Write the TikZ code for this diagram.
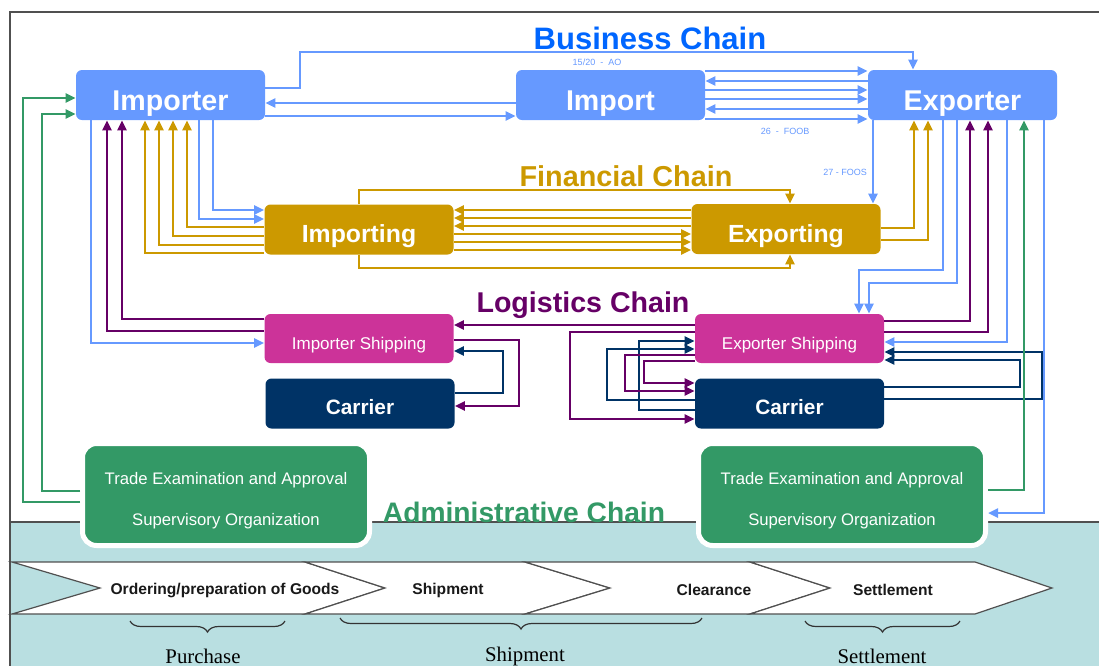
\documentclass[tikz,border=0pt]{standalone}
\usepackage{fontspec}
\setmainfont{Liberation Sans}
\newfontfamily\serifface{Liberation Serif}
\usetikzlibrary{arrows.meta,decorations.pathreplacing}
\definecolor{bizblue}{HTML}{6699FF}
\definecolor{titleblue}{HTML}{0066FF}
\definecolor{fingold}{HTML}{CC9900}
\definecolor{logpurple}{HTML}{660066}
\definecolor{shipmag}{HTML}{CC3399}
\definecolor{carnavy}{HTML}{003366}
\definecolor{admgreen}{HTML}{339966}
\definecolor{bgteal}{HTML}{B9DFE1}
\definecolor{framegray}{HTML}{505050}
\tikzset{
  box/.style={rounded corners=3pt, inner sep=0pt, text=white, minimum width=94.5pt, minimum height=25pt, text depth=0pt},
  bizbox/.style={box, fill=bizblue, text height=15.5pt, font=\fontsize{14.3}{16}\selectfont\bfseries},
  finbox/.style={box, fill=fingold, text height=13pt, font=\fontsize{12.4}{14}\selectfont\bfseries},
  shipbox/.style={box, fill=shipmag, minimum height=24.5pt, text height=10.5pt, font=\fontsize{8.5}{10}\selectfont},
  carbox/.style={box, fill=carnavy, text height=11pt, font=\fontsize{10.4}{12}\selectfont\bfseries},
  admbox/.style={rounded corners=7pt, inner sep=0pt, text=white, fill=admgreen, draw=white, line width=2.5pt,
    minimum width=143.5pt, minimum height=51pt, align=center, font=\fontsize{8.35}{20.5}\selectfont},
  ttl/.style={font=\fontsize{#1}{#1}\selectfont\bfseries},
  tiny/.style={text=bizblue, font=\fontsize{4.5}{5}\selectfont},
  tip/.style={-{Triangle[length=5pt,width=4.5pt]}},
  biz/.style={tip, bizblue, line width=1.2pt},
  fin/.style={tip, fingold, line width=1.2pt},
  log/.style={tip, logpurple, line width=1.2pt},
  car/.style={tip, carnavy, line width=1.2pt},
  adm/.style={tip, admgreen, line width=1.2pt},
  chevron/.style={fill=white, draw=framegray, line width=0.6pt},
  stage/.style={text=black!90, font=\fontsize{7.8}{9}\selectfont\bfseries},
  phase/.style={decorate, decoration={brace, mirror, amplitude=5.5pt}, draw=black!80, line width=0.6pt},
  phaselabel/.style={font=\serifface\fontsize{10.4}{12}\selectfont}
}
\newcommand\admtext{\rule{0pt}{12pt}Trade Examination and Approval\\Supervisory Organization}
\begin{document}
\begin{tikzpicture}[x=0.5pt,y=-0.5pt]
  \useasboundingbox (0,0) rectangle (1099,666);
  \fill[bgteal] (10,522) rectangle (1099,666);
  \draw[framegray, line width=0.8pt] (1099,12) -- (10,12) -- (10,666);
  \draw[framegray, line width=0.8pt] (10,522) -- (1099,522);

  \draw[chevron] (12,562) -- (305,562) -- (385,588) -- (305,614) -- (12,614) -- (100,588) -- cycle;
  \draw[chevron] (305,562) -- (525,562) -- (610,588) -- (525,614) -- (305,614) -- (385,588) -- cycle;
  \draw[chevron] (525,562) -- (750,562) -- (830,588) -- (750,614) -- (525,614) -- (610,588) -- cycle;
  \draw[chevron] (750,562) -- (975,562) -- (1052,588) -- (975,614) -- (750,614) -- (830,588) -- cycle;
  \node[stage] (ordering) at (225,590) {Ordering/preparation of Goods};
  \node[stage] (shipment) at (448,590) {Shipment};
  \node[stage] (clearance) at (714,590) {Clearance};
  \node[stage] (settlement) at (893,590) {Settlement};

  \coordinate (purchaseL) at (130,621);
  \coordinate (purchaseR) at (285,621);
  \coordinate (shipmentL) at (340,618);
  \coordinate (shipmentR) at (702,618);
  \coordinate (settleL) at (805,621);
  \coordinate (settleR) at (960,621);
  \draw[phase] (purchaseL) -- (purchaseR);
  \draw[phase] (shipmentL) -- (shipmentR);
  \draw[phase] (settleL) -- (settleR);
  \node[phaselabel] (purchase) at (203,656) {Purchase};
  \node[phaselabel] (shipphase) at (525,656) {Shipment};
  \node[phaselabel] (settlephase) at (882,656) {Settlement};

  \node[bizbox] (importer) at (170.5,95) {Importer};
  \node[bizbox] (import) at (610.5,95) {Import};
  \node[bizbox] (exporter) at (962.5,95) {Exporter};
  \node[finbox] (importing) at (359,229.5) {Importing};
  \node[finbox] (exporting) at (786,229) {Exporting};
  \node[shipbox] (impship) at (359,338.5) {Importer Shipping};
  \node[carbox] (impcar) at (360,403.5) {Carrier};
  \node[shipbox] (expship) at (789.5,338.5) {Exporter Shipping};
  \node[carbox] (expcar) at (789.5,403.5) {Carrier};
  \node[admbox] (impadm) at (226,494.5) {\admtext};
  \node[admbox] (expadm) at (842,494.5) {\admtext};

  \node[ttl=15.5, text=titleblue] (business) at (650,38) {Business Chain};
  \node[ttl=14.4, text=fingold] (financial) at (626,176) {Financial Chain};
  \node[ttl=14.3, text=logpurple] (logistics) at (583,305) {Logistics Chain};
  \node[ttl=14.1, text=admgreen] (admin) at (524,512) {Administrative Chain};

  \node[tiny] (ref1) at (597,62) {15/20\ \ -\ \ AO};
  \node[tiny] (ref2) at (785,131) {26\ \ -\ \ FOOB};
  \node[tiny] (ref3) at (845,172) {27 - FOOS};

  \draw[biz] (importer.east |- 0,88) -| (300,52) -| (exporter.north -| 913,0);
  \draw[biz] (import.west |- 0,103) -- (importer.east |- 0,103);
  \draw[biz] (importer.east |- 0,116) -- (import.west |- 0,116);
  \foreach \y in {71,90,99,119}
    \draw[biz] (import.east |- 0,\y) -- (exporter.west |- 0,\y);
  \foreach \y in {81,109}
    \draw[biz] (exporter.west |- 0,\y) -- (import.east |- 0,\y);
  \draw[biz] (exporter.south -| 873,0) -- (exporting.north -| 873,0);
  \draw[biz] (exporter.south -| 943,0) |- (859,270) -- (expship.north -| 859,0);
  \draw[biz] (exporter.south -| 957,0) |- (869,283) -- (expship.north -| 869,0);
  \draw[biz] (exporter.south -| 1007,0) |- (expship.east |- 0,342);
  \draw[biz] (exporter.south -| 1044,0) |- (expadm.east |- 0,513);
  \draw[biz] (importer.south -| 91,0) |- (impship.west |- 0,343);
  \draw[biz] (importer.south -| 199,0) |- (importing.west |- 0,219);
  \draw[biz] (importer.south -| 213,0) |- (importing.west |- 0,210);

  \foreach \y/\x in {227/187,236/173,245/159,253/145}
    \draw[fin] (importing.west |- 0,\y) -| (importer.south -| \x,0);
  \draw[fin] (exporting.east |- 0,228) -| (exporter.south -| 914,0);
  \draw[fin] (exporting.east |- 0,240) -| (exporter.south -| 928,0);
  \draw[fin] (importing.north -| 359,0) |- (790,190) -- (exporting.north -| 790,0);
  \draw[fin] (importing.south -| 359,0) |- (790,268) -- (exporting.south -| 790,0);
  \foreach \y in {210,218,226}
    \draw[fin] (exporting.west |- 0,\y) -- (importing.east |- 0,\y);
  \foreach \y in {234,242,250}
    \draw[fin] (importing.east |- 0,\y) -- (exporting.west |- 0,\y);

  \draw[log] (impship.west |- 0,319) -| (importer.south -| 122,0);
  \draw[log] (impship.west |- 0,331) -| (importer.south -| 107,0);
  \draw[log] (expship.west |- 0,325) -- (impship.east |- 0,325);
  \draw[log] (impship.east |- 0,340) -- (519,340) -- (519,406) -- (impcar.east |- 0,406);
  \draw[car] (impcar.east |- 0,393) -- (503,393) -- (503,351) -- (impship.east |- 0,351);
  \draw[log] (expship.west |- 0,332) -- (570,332) -- (570,419) -- (expcar.west |- 0,419);
  \draw[car] (expcar.west |- 0,410) -- (639,410) -- (639,341) -- (expship.west |- 0,341);
  \draw[car] (expcar.west |- 0,400) -- (607,400) -- (607,349) -- (expship.west |- 0,349);
  \draw[log] (expship.west |- 0,355) -- (625,355) -- (625,391) -- (expcar.west |- 0,391);
  \draw[log] (expship.west |- 0,361) -- (644,361) -- (644,383) -- (expcar.west |- 0,383);
  \draw[log] (expship.east |- 0,321) -| (exporter.south -| 970,0);
  \draw[log] (expship.east |- 0,332) -| (exporter.south -| 988,0);
  \draw[car] (expcar.east |- 0,387) -- (1020,387) -- (1020,360) -- (expship.east |- 0,360);
  \draw[car] (expcar.east |- 0,399) -- (1042,399) -- (1042,352) -- (expship.east |- 0,352);

  \draw[adm] (impadm.west |- 0,491) -- (42,491) -- (42,114) -- (importer.west |- 0,114);
  \draw[adm] (impadm.west |- 0,502) -- (23,502) -- (23,98) -- (importer.west |- 0,98);
  \draw[adm] (expadm.east |- 0,490) -| (exporter.south -| 1024,0);
\end{tikzpicture}
\end{document}
